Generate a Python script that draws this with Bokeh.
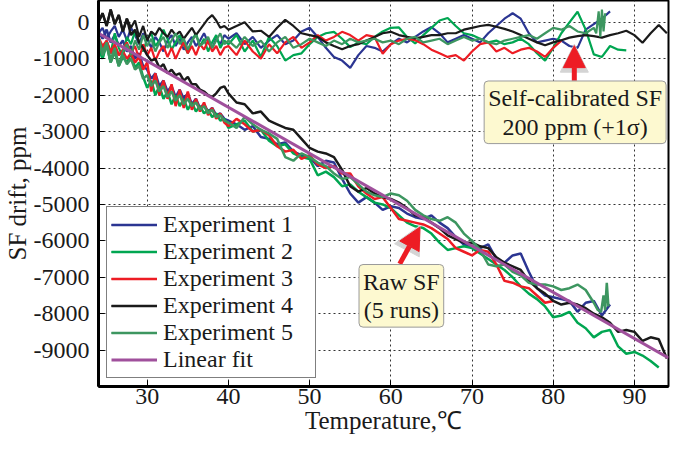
from bokeh.plotting import figure
from bokeh.models import (Range1d, Legend, LegendItem, Label, Arrow, NormalHead, FixedTicker,
                          CustomJSTickFormatter)
from bokeh.embed import file_html
from bokeh.resources import INLINE

# ---------------- data ----------------
T_EARLY = [24.0, 24.5, 25.0, 25.5, 26.0, 26.5, 27.0, 27.5, 28.0, 28.5, 29.0, 29.5,
           30.0, 30.5, 31.0, 31.5, 32.0, 32.5, 33.0, 33.5, 34.0, 34.5, 35.0, 35.5,
           36.0, 36.5, 37.0, 37.5, 38.0, 38.5, 39.0, 39.5]
T_LATE = [40, 41, 42, 43, 44, 45, 46, 47, 48, 49, 50, 51, 52, 53, 54, 55, 56, 57, 58, 59,
          60, 61, 62, 63, 64, 65, 66, 67, 68, 69, 70, 71, 72, 73, 74, 75, 76, 77, 78, 79,
          80, 81, 82, 83, 84, 85, 86, 87, 88, 89, 90, 91, 92, 93, 94]

# Raw SF drift (ppm)
EXP1_RAW_EARLY = [-250, -450, -200, -550, -350, -650, -500, -800, -650, -1000, -850, -1200,
                  -1300, -1550, -1400, -1750, -1600, -1900, -1750, -2050, -1850, -2100, -1950, -2250,
                  -2100, -2350, -2250, -2450, -2350, -2550, -2500, -2650]
EXP1_RAW_LATE = [-2700, -2800, -2950, -2850, -3150, -3200, -3350, -3300, -3550, -3650,
                 -3700, -3950, -3800, -3850, -4300, -4700, -4950, -4800, -4950, -5150,
                 -5050, -5100, -5250, -5350, -5400, -5300, -5500, -5650, -5900, -6100,
                 -6150, -6200, -6100, -6500, -6600, -6400, -6350, -6850, -7300, -7500,
                 -7550, -7600, -7650, -7950, -7700, -7650, -8050, -7750]

EXP2_RAW_EARLY = [-700, -1000, -600, -1100, -800, -1200, -950, -1100, -850, -1250, -1100, -1500,
                  -1800, -1600, -2000, -1750, -2100, -1900, -2250, -2000, -2300, -2100, -2400, -2200,
                  -2450, -2300, -2500, -2400, -2600, -2500, -2700, -2650]
EXP2_RAW_LATE = [-2900, -2800, -2700, -3000, -2950, -3250, -3400, -3350, -3600, -3700,
                 -3750, -4200, -4100, -4250, -4500, -4450, -4650, -4800, -4950, -5000,
                 -5100, -5300, -5500, -5600, -5650, -5800, -6050, -6250, -6200, -6150,
                 -6200, -6350, -6500, -6650, -6800, -7000, -7250, -7450, -7600, -7800,
                 -8100, -8050, -7950, -8250, -8400, -8650, -8500, -8450, -8900, -9100,
                 -9050, -9150, -9300, -9480]

EXP3_RAW_EARLY = [-450, -700, -550, -850, -650, -900, -800, -1000, -850, -1100, -950, -1300,
                  -1100, -1900, -1400, -2000, -1600, -2100, -1700, -2300, -1850, -2350, -1900, -2400,
                  -2100, -2450, -2200, -2550, -2350, -2650, -2500, -2750]
EXP3_RAW_LATE = [-2850, -2650, -2800, -3000, -2950, -3100, -3400, -3550, -3500, -3750,
                 -3650, -3900, -4000, -3950, -4150, -4150, -4500, -4700, -4850, -4800,
                 -5100, -5400, -5450, -5500, -5550, -5650, -5800, -5950, -6200, -6300,
                 -6400, -6250, -6300, -6650, -7100, -7150, -7250, -7300, -7500, -7700,
                 -7650]

EXP4_RAW_EARLY = [0, 250, -100, 350, -50, 200, -250, 100, -350, -200, -550, -700,
                  -900, -1050, -1000, -1250, -1150, -1400, -1300, -1450, -1400, -1600, -1500, -1700,
                  -1700, -1850, -1900, -2000, -2050, -1950, -1800, -1760]
EXP4_RAW_LATE = [-1950, -2200, -2250, -2500, -2450, -2700, -2800, -2900, -2950, -3200,
                 -3450, -3550, -3600, -3700, -4050, -4500, -4650, -4550, -4700, -4800,
                 -4850, -4950, -5100, -5300, -5350, -5500, -5650, -5850, -5950, -6050,
                 -6050, -6150, -6200, -6450, -6600, -6700, -6800, -7100, -7300, -7450,
                 -7650, -7750, -7700, -7750, -7850, -8000, -8100, -8250, -8500, -8450,
                 -8500, -8750, -8650, -8700, -9230]

EXP5_RAW_EARLY = [-500, -900, -650, -1100, -800, -1200, -900, -1150, -1000, -1300, -1200, -1550,
                  -1450, -1750, -1600, -1900, -1750, -2050, -1900, -2150, -2000, -2250, -2100, -2300,
                  -2200, -2400, -2300, -2500, -2400, -2600, -2550, -2700]
EXP5_RAW_LATE = [-2750, -2900, -2600, -2800, -2950, -3050, -3200, -3700, -3800, -3600,
                 -3700, -3850, -3950, -4150, -4300, -4250, -4450, -4650, -4750, -4800,
                 -4700, -4750, -4900, -5150, -5300, -5400, -5450, -5350, -5500, -5800,
                 -6000, -6250, -6650, -6700, -6650, -6850, -6950, -7150, -7200, -7200,
                 -7250, -7350, -7300, -7200, -7350, -7700]
EXP5_RAW_TAIL_T = [85.5, 85.9, 86.2, 86.4, 86.6, 86.8]
EXP5_RAW_TAIL = [-7900, -7950, -7500, -7900, -7150, -7800]

# Self-calibrated SF drift (ppm)
EXP1_CAL_EARLY = [-300, -150, -450, -250, -100, -400, -200, -500, -150, -350, -600, -300,
                  -450, -700, -400, -550, -800, -500, -350, -650, -450, -750, -550, -400,
                  -650, -500, -300, -550, -700, -450, -600, -350]
EXP1_CAL_LATE = [-450, -300, -600, -400, -700, -500, -350, -600, -500, -250,
                 -150, -400, -700, -950, -1050, -1250, -900, -650, -700, -800,
                 -600, -450, -550, -400, -250, -130, -300, -550, -450, -350,
                 -450, -550, -300, -100, 100, 250, 100, -300, -550, -500,
                 -450, -500, -650, -700, -200, -50, 100, 300]

EXP2_CAL_EARLY = [-600, -1000, -500, -850, -300, -700, -950, -400, -600, -250, -550, -800,
                  -450, -300, -650, -500, -200, -450, -750, -550, -350, -600, -850, -500,
                  -300, -650, -450, -800, -550, -350, -700, -500]
EXP2_CAL_LATE = [-600, -350, -800, -500, -950, -400, -650, -1050, -900, -850,
                 -600, -400, -300, -260, -450, -680, -550, -600, -400, -250,
                 -150, -140, -400, -580, -350, -150, 50, 120, -100, -300,
                 -350, -450, -550, -500, -600, -550, -450, -600, -850, -1050,
                 -700, -300, 0, 290, -200, -880, -950, -650, -750, -770]

EXP3_CAL_EARLY = [-400, -650, -500, -800, -600, -900, -750, -550, -850, -650, -1000, -600,
                  -900, -700, -1050, -800, -650, -950, -700, -1000, -750, -550, -850, -650,
                  -900, -600, -750, -500, -800, -650, -900, -700]
EXP3_CAL_LATE = [-650, -900, -500, -800, -1000, -600, -850, -550, -400, -700,
                 -550, -350, -500, -400, -260, -350, -500, -350, -400, -860,
                 -600, -500, -450, -490, -600, -750, -850, -950, -900, -1050,
                 -800, -600, -550, -800, -700, -850, -750, -700, -800, -950,
                 -700, -500]

EXP4_CAL_EARLY = [0, 250, -100, 350, -50, 200, -250, 100, -150, 50, -400, -100,
                  -500, -250, -350, -150, -300, -400, -200, -350, -250, -450, -300, -150,
                  -350, -200, -50, 100, 200, 50, -150, -100]
EXP4_CAL_LATE = [-200, -100, 0, -250, -230, -400, -150, 70, -100, -300,
                 -350, -400, -550, -650, -740, -650, -600, -500, -400, -300,
                 -260, -350, -400, -440, -400, -350, -350, -300, -300, -200,
                 -150, -100, -70, -120, -180, -250, -350, -450, -550, -630,
                 -550, -490, -420, -380, -350, -380, -420, -350, -300, -230,
                 -350, -560, -300, -70, -300]

EXP5_CAL_EARLY = [-400, -800, -550, -1000, -700, -1150, -800, -600, -900, -500, -750, -350,
                  -650, -450, -800, -550, -400, -700, -500, -300, -600, -450, -750, -500,
                  -350, -650, -550, -400, -700, -500, -300, -600]
EXP5_CAL_LATE = [-500, -700, -400, -650, -500, -800, -550, -400, -700, -600,
                 -450, -550, -650, -500, -600, -450, -550, -500, -450, -550,
                 -500, -600, -450, -400, -550, -500, -450, -600, -500, -400,
                 -500, -450, -550, -600, -500, -450, -400, -350, -450, -300,
                 -150, -200, -100, -250, -300, -150]
EXP5_CAL_TAIL_T = [85.3, 85.6, 85.8, 86.0, 86.2, 86.4]
EXP5_CAL_TAIL = [-300, 300, -400, 350, -250, 250]

# Linear fit end points
FIT_T = [24, 94.2]
FIT_V = [-300, -9215]

NAMES = ["Experiment 1", "Experiment 2", "Experiment 3", "Experiment 4", "Experiment 5"]
COLORS = ["#2b3592", "#00a651", "#ed1c24", "#1a1a1a", "#3d9660"]
FIT_COLOR = "#a0509c"

X_TICKS = [30, 40, 50, 60, 70, 80, 90]
Y_TICKS = [-9000, -8000, -7000, -6000, -5000, -4000, -3000, -2000, -1000, 0]


def series(early, late, tail_t=None, tail_v=None):
    xs = list(T_EARLY[:len(early)]) + list(T_LATE[:len(late)])
    ys = list(early[:len(T_EARLY)]) + list(late[:len(T_LATE)])
    if tail_t:
        xs += tail_t
        ys += tail_v
    n = min(len(xs), len(ys))
    return xs[:n], ys[:n]


RAW = [
    series(EXP1_RAW_EARLY, EXP1_RAW_LATE),
    series(EXP2_RAW_EARLY, EXP2_RAW_LATE),
    series(EXP3_RAW_EARLY, EXP3_RAW_LATE),
    series(EXP4_RAW_EARLY, EXP4_RAW_LATE),
    series(EXP5_RAW_EARLY, EXP5_RAW_LATE, EXP5_RAW_TAIL_T, EXP5_RAW_TAIL),
]
CAL = [
    series(EXP1_CAL_EARLY, EXP1_CAL_LATE),
    series(EXP2_CAL_EARLY, EXP2_CAL_LATE),
    series(EXP3_CAL_EARLY, EXP3_CAL_LATE),
    series(EXP4_CAL_EARLY, EXP4_CAL_LATE),
    series(EXP5_CAL_EARLY, EXP5_CAL_LATE, EXP5_CAL_TAIL_T, EXP5_CAL_TAIL),
]

FONT = "Liberation Serif"

p = figure(width=670, height=436, output_backend="svg", toolbar_location=None,
           x_range=Range1d(24, 94.2), y_range=Range1d(-10000, 600),
           min_border_left=90, min_border_right=2, min_border_top=0, min_border_bottom=40)

p.background_fill_color = "white"
p.border_fill_color = "white"
p.outline_line_color = "black"
p.outline_line_width = 2

p.xaxis.ticker = FixedTicker(ticks=X_TICKS)
p.yaxis.ticker = FixedTicker(ticks=Y_TICKS)
p.yaxis.formatter = CustomJSTickFormatter(code="return tick.toFixed(0);")
for ax in (p.xaxis, p.yaxis):
    ax.axis_line_color = "black"
    ax.axis_line_width = 3
    ax.major_tick_in = 6
    ax.major_tick_out = 0
    ax.minor_tick_line_color = None
    ax.major_tick_line_color = "black"
    ax.major_label_text_font = FONT
    ax.major_label_text_font_size = "24px"
    ax.major_label_text_color = "#1a1a1a"
    ax.axis_label_text_font = FONT
    ax.axis_label_text_font_size = "25px"
    ax.axis_label_text_font_style = "normal"
    ax.axis_label_text_color = "#1a1a1a"
p.xaxis.axis_label = "Temperature,\u2103"
p.yaxis.axis_label = "SF drift, ppm"
p.xaxis.major_label_standoff = 2
p.xaxis.axis_label_standoff = 0
p.yaxis.major_label_standoff = 9
p.yaxis.axis_label_standoff = 0

for g in (p.xgrid, p.ygrid):
    g.grid_line_color = "#333333"
    g.grid_line_dash = "2 3"
    g.grid_line_width = 1
p.xgrid.ticker = FixedTicker(ticks=X_TICKS)
p.ygrid.ticker = FixedTicker(ticks=Y_TICKS)

items = []
for i in range(5):
    rx, ry = RAW[i]
    cx, cy = CAL[i]
    r1 = p.line(rx, ry, line_color=COLORS[i], line_width=2.5)
    r2 = p.line(cx, cy, line_color=COLORS[i], line_width=2.2)
    items.append(LegendItem(label=NAMES[i], renderers=[r1, r2]))
rf = p.line(FIT_T, FIT_V, line_color=FIT_COLOR, line_width=3)
items.append(LegendItem(label="Linear fit", renderers=[rf]))

legend = Legend(items=items, location="bottom_left")
legend.margin = 8
legend.padding = 4
legend.spacing = 0
legend.label_text_font = FONT
legend.label_text_font_size = "24px"
legend.label_text_line_height = 0.9
legend.label_text_color = "#1a1a1a"
legend.glyph_width = 46
legend.glyph_height = 25
legend.label_height = 25
legend.label_width = 148
legend.label_standoff = 6
legend.border_line_color = "black"
legend.border_line_width = 1
legend.background_fill_alpha = 1
p.add_layout(legend)

RED = "#ed1c24"
for (xs, ys, xe, ye) in [(82.6, -1606, 82.6, -640), (61.1, -6633, 63.6, -5620)]:
    p.add_layout(Arrow(end=NormalHead(size=28, fill_color="#d4d4d4", line_color="#d4d4d4"),
                       x_start=xs, y_start=ys, x_end=xe, y_end=ye + 40,
                       line_color="#d4d4d4", line_width=8, line_alpha=0.0))
    p.add_layout(Arrow(end=NormalHead(size=22, fill_color=RED, line_color=RED),
                       x_start=xs, y_start=ys, x_end=xe, y_end=ye,
                       line_color=RED, line_width=5))

for (x, y, txt) in [(82.7, -2470, "Self-calibrated SF\n200 ppm (+1\u03c3)"),
                    (61.3, -7510, "Raw SF\n(5 runs)")]:
    p.add_layout(Label(x=x, y=y, text=txt, text_align="center", text_baseline="middle",
                       text_font=FONT, text_font_size="24px", text_color="#1a1a1a",
                       text_line_height=1.1,
                       background_fill_color="#fdf9d0", border_line_color="#9a9a9a",
                       border_line_width=1, padding=4, border_radius=4))

open("out.html", "w").write(file_html(p, INLINE))
